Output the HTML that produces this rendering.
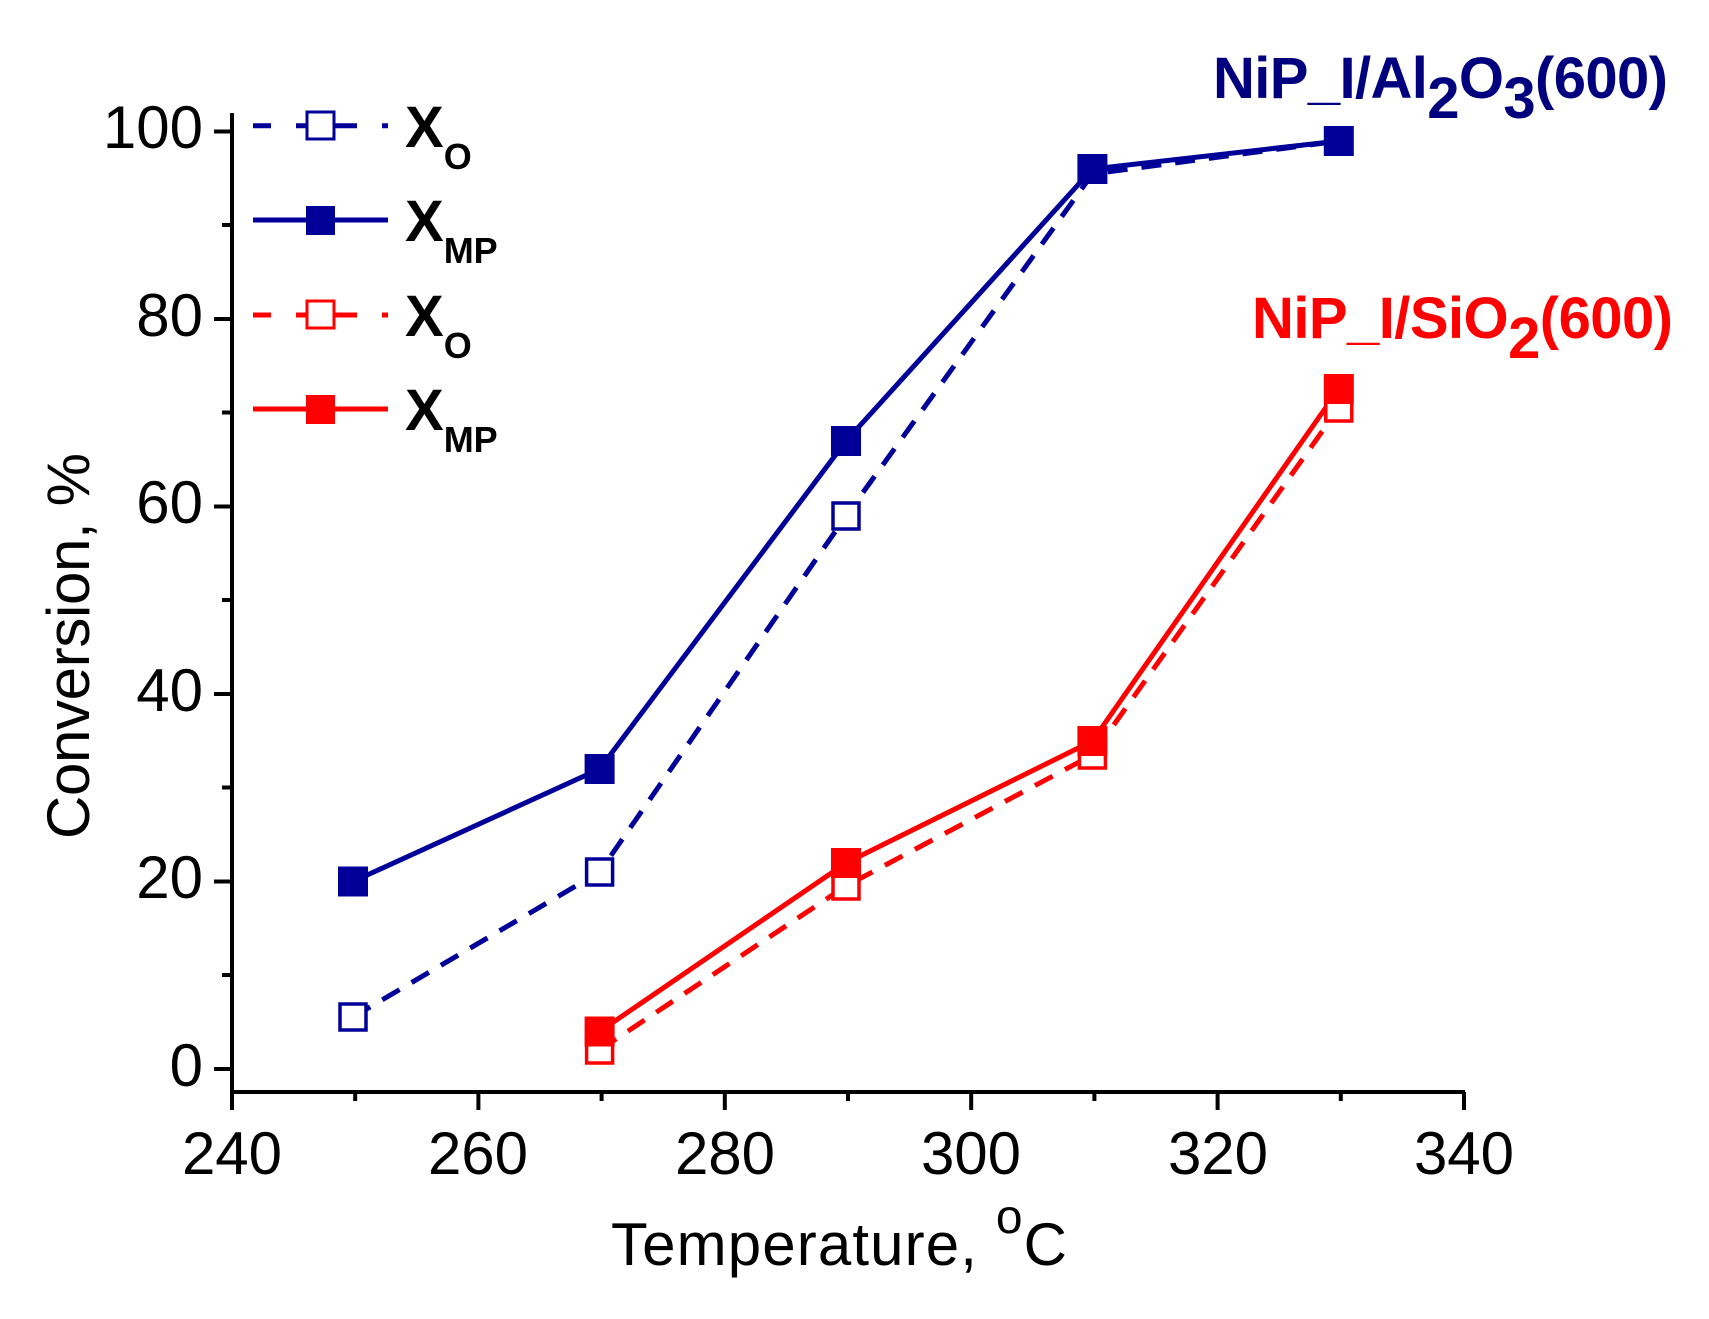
<!DOCTYPE html>
<html><head><meta charset="utf-8"><style>body{margin:0;background:#fff}svg{display:block}</style></head><body>
<svg width="1709" height="1319" xmlns="http://www.w3.org/2000/svg" font-family="Liberation Sans, Arial, sans-serif">
<rect width="1709" height="1319" fill="#fff"/>
<!-- axes -->
<g stroke="#000" stroke-width="4" fill="none">
<line x1="232" y1="113" x2="232" y2="1094"/>
<line x1="230" y1="1092" x2="1465" y2="1092"/>
<path d="M214 1069H232M214 881.5H232M214 694H232M214 506.5H232M214 319H232M214 131.5H232"/>
<path d="M222 975H232M222 787.5H232M222 600H232M222 412.5H232M222 225H232"/>
<path d="M232 1092V1110M478.4 1092V1110M724.8 1092V1110M971.2 1092V1110M1217.6 1092V1110M1464 1092V1110"/>
<path d="M355.2 1092V1101M601.6 1092V1101M848 1092V1101M1094.4 1092V1101M1340.8 1092V1101"/>
</g>
<g font-size="60" text-anchor="end" fill="#000">
<text x="203" y="1086">0</text><text x="203" y="898">20</text><text x="203" y="711">40</text>
<text x="203" y="523">60</text><text x="203" y="336">80</text><text x="203" y="148">100</text>
</g>
<g font-size="60" text-anchor="middle" fill="#000">
<text x="232" y="1174">240</text><text x="478" y="1174">260</text><text x="725" y="1174">280</text>
<text x="971" y="1174">300</text><text x="1218" y="1174">320</text><text x="1464" y="1174">340</text>
</g>
<text font-size="60" transform="translate(89,646) rotate(-90)" text-anchor="middle" textLength="386">Conversion, %</text>
<text font-size="60" x="611" y="1265" textLength="456">Temperature, <tspan dy="-32" font-size="48">o</tspan><tspan dy="32">C</tspan></text>
<!-- series -->
<g fill="none" stroke-width="5">
<polyline stroke="#000099" stroke-dasharray="20 14" points="353,1017 599.6,872 846,516 1092.4,174 1338.8,141"/>
<polyline stroke="#000099" points="353,881.5 599.6,769 846,441 1092.4,169 1338.8,141"/>
<polyline stroke="#ff0000" stroke-dasharray="20 14" points="599.6,1050 846,886 1092.4,755 1338.8,408"/>
<polyline stroke="#ff0000" points="599.6,1031.5 846,863 1092.4,741 1338.8,389"/>
</g>
<g fill="#fff" stroke-width="3.5">
<g stroke="#000099">
<rect x="340" y="1004" width="26" height="26"/><rect x="586.6" y="859" width="26" height="26"/>
<rect x="833" y="503" width="26" height="26"/>
</g>
<g stroke="#ff0000">
<rect x="586.6" y="1037" width="26" height="26"/><rect x="833" y="873" width="26" height="26"/>
<rect x="1079.4" y="742" width="26" height="26"/><rect x="1325.8" y="395" width="26" height="26"/>
</g>
</g>
<g fill="#000099">
<rect x="338" y="866.5" width="30" height="30"/><rect x="584.6" y="754" width="30" height="30"/>
<rect x="831" y="426" width="30" height="30"/><rect x="1077.4" y="154" width="30" height="30"/>
<rect x="1323.8" y="126" width="30" height="30"/>
</g>
<g fill="#ff0000">
<rect x="584.6" y="1016.5" width="30" height="30"/><rect x="831" y="848" width="30" height="30"/>
<rect x="1077.4" y="726" width="30" height="30"/><rect x="1323.8" y="374" width="30" height="30"/>
</g>
<!-- legend -->
<g stroke-width="5" fill="none">
<line x1="253" y1="125.7" x2="388" y2="125.7" stroke="#000099" stroke-dasharray="18 25 43 0"/>
<line x1="253" y1="220" x2="388" y2="220" stroke="#000099"/>
<line x1="253" y1="315" x2="388" y2="315" stroke="#ff0000" stroke-dasharray="18 25 43 0"/>
<line x1="253" y1="409" x2="388" y2="409" stroke="#ff0000"/>
</g>
<rect x="307" y="112" width="27" height="27" fill="#fff" stroke="#000099" stroke-width="3"/>
<rect x="306" y="206" width="29" height="29" fill="#000099"/>
<rect x="307" y="301" width="27" height="27" fill="#fff" stroke="#ff0000" stroke-width="3"/>
<rect x="306" y="395" width="29" height="29" fill="#ff0000"/>
<g font-weight="bold" font-size="58" fill="#000">
<text x="405" y="147">X<tspan font-size="36" dy="22">O</tspan></text>
<text x="405" y="241">X<tspan font-size="36" dy="22">MP</tspan></text>
<text x="405" y="336">X<tspan font-size="36" dy="22">O</tspan></text>
<text x="405" y="430">X<tspan font-size="36" dy="22">MP</tspan></text>
</g>
<text x="1213" y="98" font-size="58" font-weight="bold" fill="#00007f" textLength="455">NiP_I/Al<tspan dy="20">2</tspan><tspan dy="-20">O</tspan><tspan dy="20">3</tspan><tspan dy="-20">(600)</tspan></text>
<text x="1252" y="338" font-size="58" font-weight="bold" fill="#ff0000" textLength="421">NiP_I/SiO<tspan dy="20">2</tspan><tspan dy="-20">(600)</tspan></text>
</svg>
</body></html>
